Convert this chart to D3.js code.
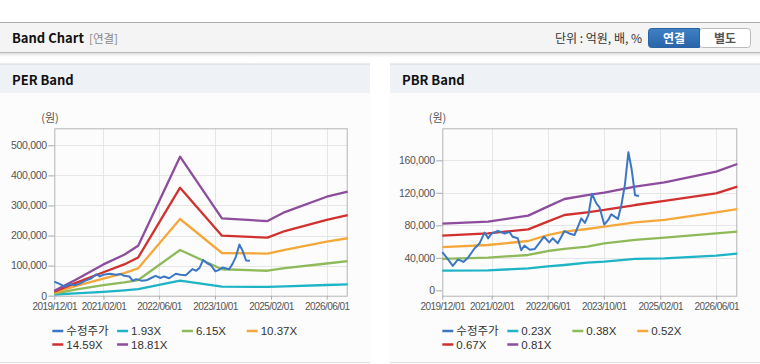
<!DOCTYPE html>
<html>
<head>
<meta charset="utf-8">
<script src="https://cdn.jsdelivr.net/npm/d3@7"></script>
<style>
  html, body { margin: 0; padding: 0; background: #fff; }
  svg { display: block; }
</style>
</head>
<body>
<div id="chart"></div>
<script>
// ---- data ----
var xTickDates = ["2019-12-01", "2021-02-01", "2022-06-01", "2023-10-01", "2025-02-01", "2026-06-01"];
var xTickLabels = ["2019/12/01", "2021/02/01", "2022/06/01", "2023/10/01", "2025/02/01", "2026/06/01"];
var perYTicks = [0, 100000, 200000, 300000, 400000, 500000];
var pbrYTicks = [0, 40000, 80000, 120000, 160000];

var priceDates = ["2019-12-01", "2020-01-15", "2020-03-01", "2020-04-15", "2020-06-01", "2020-07-10",
  "2020-09-05", "2020-10-20", "2020-12-01", "2021-01-01", "2021-02-01", "2021-03-28", "2021-05-25",
  "2021-07-05", "2021-08-01", "2021-09-15", "2021-10-15", "2021-11-12", "2021-12-28", "2022-02-10",
  "2022-03-20", "2022-05-01", "2022-06-15", "2022-07-15", "2022-08-28", "2022-10-25", "2022-12-05",
  "2023-01-20", "2023-03-20", "2023-04-20", "2023-05-20", "2023-06-20", "2023-07-28", "2023-08-25",
  "2023-10-05", "2023-11-05", "2023-12-05", "2024-02-01", "2024-03-01", "2024-04-01", "2024-05-01",
  "2024-05-28", "2024-06-28", "2024-08-01"];
var priceValues = [47000, 39000, 30000, 38000, 35000, 40000,
  51500, 58000, 71000, 64000, 70000, 73000, 70000,
  72000, 66000, 64000, 49500, 55000, 50000, 51000,
  58000, 66000, 59000, 64000, 58000, 73000, 70000,
  68000, 88500, 83000, 92500, 119000, 107000, 102000,
  81000, 86000, 93500, 88000, 105000, 130000, 170000,
  150000, 117000, 116000];

var perBandDates = ["2019-12-01", "2020-06-01", "2021-02-01", "2021-08-01", "2021-12-01", "2022-12-01",
  "2023-12-01", "2025-01-01", "2025-06-01", "2026-06-01", "2026-12-01"];
var perBandLabels = ["1.93X", "6.15X", "10.37X", "14.59X", "18.81X"];
var perBand1 = [4000, 8000, 13000, 18000, 22000, 50000, 30000, 29500, 31000, 35500, 37500];
var perBand2 = [7000, 20000, 35000, 44000, 52000, 152000, 88000, 83000, 92000, 107000, 115000];
var perBand3 = [10000, 32000, 57000, 75000, 91000, 255000, 142000, 140000, 152000, 180000, 191000];
var perBand4 = [13000, 42000, 78000, 104000, 127000, 359000, 199500, 193000, 215000, 252000, 268000];
var perBand5 = [16000, 52000, 104000, 136000, 166000, 462000, 257000, 248000, 278000, 329000, 346000];

var pbrBandDates = ["2019-12-01", "2021-01-01", "2021-12-15", "2022-06-01", "2022-10-25", "2023-05-10",
  "2023-10-05", "2024-06-28", "2025-03-10", "2026-06-01", "2026-12-01"];
var pbrBandLabels = ["0.23X", "0.38X", "0.52X", "0.67X", "0.81X"];
var pbrBand1 = [24200, 24500, 27100, 29500, 31200, 34000, 35300, 38600, 39400, 42700, 45100];
var pbrBand2 = [38600, 40200, 43500, 48400, 50900, 53700, 57800, 62000, 64800, 70200, 72200];
var pbrBand3 = [53300, 55800, 60700, 68000, 72200, 75500, 78400, 83700, 86600, 96000, 100000];
var pbrBand4 = [67300, 70200, 75000, 84500, 92700, 96000, 98900, 105000, 110000, 119400, 127600];
var pbrBand5 = [82000, 84500, 91900, 103000, 112400, 117300, 120200, 127600, 132900, 146000, 155500];

var seriesColors = ["#3b77c4", "#1db4c6", "#8fba5a", "#f5a83a", "#d1312e", "#8d4d9c"];

// ---- drawing ----
var parse = d3.timeParse("%Y-%m-%d");
var width = 760, height = 364;
var labelFont = "'Liberation Sans', Arial, 'Noto Sans CJK KR', sans-serif";
var krFont = "'Noto Sans CJK KR', 'Liberation Sans', sans-serif";

var svg = d3.select("#chart").append("svg")
  .attr("width", width)
  .attr("height", height);

var defs = svg.append("defs");
var shadow = defs.append("linearGradient").attr("id", "hdrShadow")
  .attr("x1", 0).attr("y1", 0).attr("x2", 0).attr("y2", 1);
shadow.append("stop").attr("offset", "0%").attr("stop-color", "#000").attr("stop-opacity", 0.12);
shadow.append("stop").attr("offset", "100%").attr("stop-color", "#000").attr("stop-opacity", 0);
var btnGrad = defs.append("linearGradient").attr("id", "btnBlue")
  .attr("x1", 0).attr("y1", 0).attr("x2", 0).attr("y2", 1);
btnGrad.append("stop").attr("offset", "0%").attr("stop-color", "#3f80c6");
btnGrad.append("stop").attr("offset", "100%").attr("stop-color", "#2a64a8");

// top header bar
svg.append("rect").attr("x", 0).attr("y", 22).attr("width", width).attr("height", 31)
  .attr("fill", "#f4f4f4");
svg.append("line").attr("x1", 0).attr("x2", width).attr("y1", 22.5).attr("y2", 22.5)
  .attr("stroke", "#aaa");
svg.append("rect").attr("x", 0).attr("y", 53).attr("width", width).attr("height", 4)
  .attr("fill", "url(#hdrShadow)");
svg.append("line").attr("x1", 0).attr("x2", width).attr("y1", 52.5).attr("y2", 52.5)
  .attr("stroke", "#b8b8b8");
svg.append("text").attr("x", 12).attr("y", 43)
  .attr("font-family", krFont).attr("font-size", 13).attr("font-weight", "bold")
  .attr("fill", "#111").text("Band Chart");
svg.append("text").attr("x", 89).attr("y", 43)
  .attr("font-family", krFont).attr("font-size", 11.5)
  .attr("fill", "#888").text("[연결]");
svg.append("text").attr("x", 642).attr("y", 43).attr("text-anchor", "end")
  .attr("font-family", krFont).attr("font-size", 12)
  .attr("fill", "#333").text("단위 : 억원, 배, %");

// toggle buttons
svg.append("rect").attr("x", 699.5).attr("y", 28.5).attr("width", 51).attr("height", 19)
  .attr("rx", 3).attr("fill", "#fff").attr("stroke", "#bbb");
svg.append("path")
  .attr("d", "M651.5,28.5 h48 v19 h-48 a3,3 0 0 1 -3,-3 v-13 a3,3 0 0 1 3,-3 z")
  .attr("fill", "url(#btnBlue)").attr("stroke", "#2a62a2");
svg.append("text").attr("x", 674).attr("y", 43).attr("text-anchor", "middle")
  .attr("font-family", krFont).attr("font-size", 12).attr("font-weight", "bold")
  .attr("fill", "#fff").text("연결");
svg.append("text").attr("x", 725).attr("y", 43).attr("text-anchor", "middle")
  .attr("font-family", krFont).attr("font-size", 12).attr("font-weight", "bold")
  .attr("fill", "#555").text("별도");

function drawPanel(opt) {
  var g = svg.append("g").attr("transform", "translate(" + opt.left + ",0)");
  var pw = opt.panelWidth;

  // panel frame
  g.append("rect").attr("x", 0).attr("y", 93).attr("width", pw).attr("height", 269)
    .attr("fill", "#fcfcfc");
  g.append("rect").attr("x", 0).attr("y", 64).attr("width", pw).attr("height", 29)
    .attr("fill", "#eef2f7");
  g.append("line").attr("x1", 0).attr("x2", pw).attr("y1", 64).attr("y2", 64)
    .attr("stroke", "#d6d6d6");
  g.append("line").attr("x1", 0).attr("x2", pw).attr("y1", 362.5).attr("y2", 362.5)
    .attr("stroke", "#ddd");
  g.append("text").attr("x", 12).attr("y", 85)
    .attr("font-family", krFont).attr("font-size", 13).attr("font-weight", "bold")
    .attr("fill", "#111").text(opt.title);

  var x = d3.scaleTime()
    .domain([parse("2019-12-01"), parse("2026-12-01")])
    .range([opt.plotLeft, opt.plotRight]);
  var y = d3.scaleLinear()
    .domain(opt.yDomain)
    .range([opt.plotBottom, opt.plotTop]);

  // grid
  var grid = g.append("g");
  grid.selectAll(".hgrid").data(opt.yTicks.slice(1)).enter().append("line")
    .attr("x1", opt.plotLeft).attr("x2", opt.plotRight)
    .attr("y1", function(d){ return Math.round(y(d)) + 0.5; })
    .attr("y2", function(d){ return Math.round(y(d)) + 0.5; })
    .attr("stroke", "#e6e6e6");
  grid.selectAll(".vgrid").data(xTickDates.slice(1)).enter().append("line")
    .attr("x1", function(d){ return Math.round(x(parse(d))) + 0.5; })
    .attr("x2", function(d){ return Math.round(x(parse(d))) + 0.5; })
    .attr("y1", opt.plotTop).attr("y2", opt.plotBottom)
    .attr("stroke", "#e6e6e6");

  // plot border
  g.append("rect")
    .attr("x", opt.plotLeft + 0.5).attr("y", opt.plotTop + 0.5)
    .attr("width", opt.plotRight - opt.plotLeft - 1)
    .attr("height", opt.plotBottom - opt.plotTop)
    .attr("fill", "none").attr("stroke", "#b4b4b4");

  // axes
  var yAxis = d3.axisLeft(y)
    .tickValues(opt.yTicks)
    .tickSize(6)
    .tickPadding(1.5)
    .tickFormat(d3.format(","));
  var ya = g.append("g")
    .attr("transform", "translate(" + opt.plotLeft + ",0)")
    .call(yAxis);
  ya.select(".domain").remove();
  ya.selectAll("line").attr("stroke", "#aaa");
  ya.selectAll("text").attr("fill", "#555").attr("font-size", 10.5)
    .attr("letter-spacing", -0.3).attr("font-family", labelFont);

  var xAxis = d3.axisBottom(x)
    .tickValues(xTickDates.map(parse))
    .tickSize(4)
    .tickPadding(3)
    .tickFormat(function(d, i){ return xTickLabels[i]; });
  var xa = g.append("g")
    .attr("transform", "translate(0," + opt.plotBottom + ")")
    .call(xAxis);
  xa.select(".domain").remove();
  xa.selectAll("line").attr("stroke", "#aaa");
  xa.selectAll("text").attr("fill", "#555").attr("font-size", 10)
    .attr("letter-spacing", -0.55).attr("font-family", labelFont);

  g.append("text").attr("x", opt.unitX).attr("y", 122).attr("text-anchor", "middle")
    .attr("font-family", krFont).attr("font-size", 11)
    .attr("fill", "#555").text("(원)");

  // lines
  var line = d3.line()
    .x(function(d){ return x(d.date); })
    .y(function(d){ return y(d.value); });
  var lines = g.append("g");
  opt.bands.forEach(function(vals, i) {
    var pts = opt.bandDates.map(function(d, j){ return {date: parse(d), value: vals[j]}; });
    lines.append("path")
      .attr("d", line(pts))
      .attr("fill", "none")
      .attr("stroke", seriesColors[i + 1])
      .attr("stroke-width", 2.3)
      .attr("stroke-linejoin", "round");
  });
  var pricePts = priceDates.map(function(d, j){ return {date: parse(d), value: priceValues[j]}; });
  lines.append("path")
    .attr("d", line(pricePts))
    .attr("fill", "none")
    .attr("stroke", seriesColors[0])
    .attr("stroke-width", 2)
    .attr("stroke-linejoin", "round");

  // legend
  var names = ["수정주가"].concat(opt.bandLabels);
  var legend = g.append("g");
  names.forEach(function(name, i) {
    var col = i % 4, row = Math.floor(i / 4);
    var lx = opt.legendLeft + col * opt.legendStep;
    var ly = 331 + row * 13.5;
    legend.append("line")
      .attr("x1", lx).attr("x2", lx + 11)
      .attr("y1", ly).attr("y2", ly)
      .attr("stroke", seriesColors[i]).attr("stroke-width", 2.5);
    legend.append("text")
      .attr("x", lx + 14).attr("y", ly + 4)
      .attr("font-family", i === 0 ? krFont : labelFont)
      .attr("font-size", 11.5)
      .attr("fill", "#333")
      .text(name);
  });
}

drawPanel({
  left: 0, panelWidth: 370, title: "PER Band",
  plotLeft: 54.3, plotRight: 347.7, plotTop: 128.3, plotBottom: 295.7,
  yDomain: [0, 556500], yTicks: perYTicks,
  bandDates: perBandDates, bandLabels: perBandLabels,
  bands: [perBand1, perBand2, perBand3, perBand4, perBand5],
  unitX: 50, legendLeft: 52.3, legendStep: 64.8
});

drawPanel({
  left: 390, panelWidth: 370, title: "PBR Band",
  plotLeft: 52.3, plotRight: 347.3, plotTop: 128.3, plotBottom: 295.7,
  yDomain: [-6600, 199400], yTicks: pbrYTicks,
  bandDates: pbrBandDates, bandLabels: pbrBandLabels,
  bands: [pbrBand1, pbrBand2, pbrBand3, pbrBand4, pbrBand5],
  unitX: 47.5, legendLeft: 52.3, legendStep: 65
});
</script>
</body>
</html>
